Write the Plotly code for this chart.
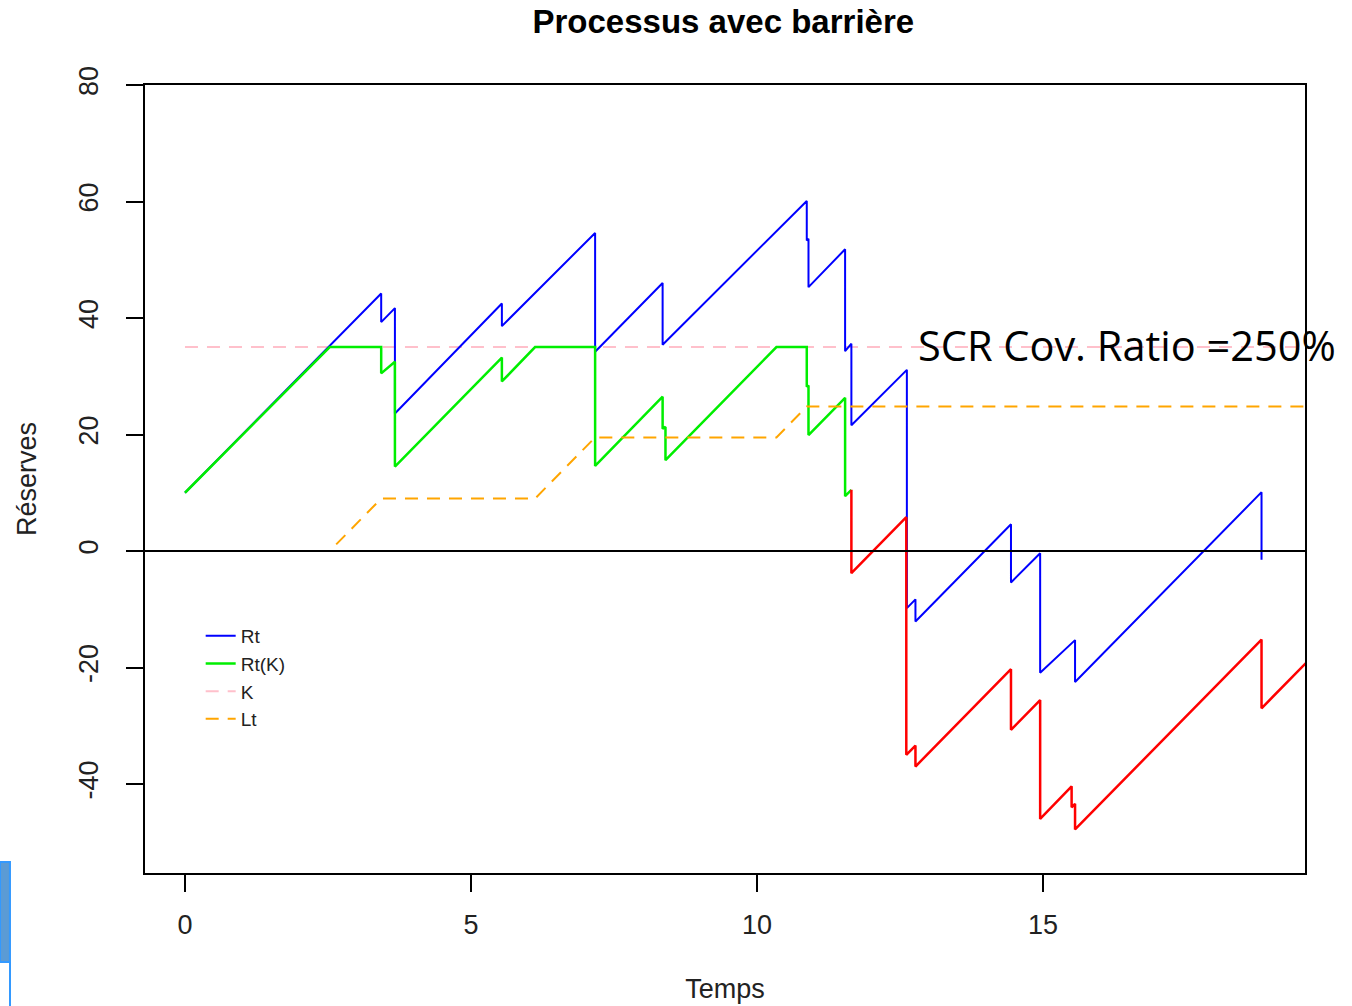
import plotly.graph_objects as go

# ---- data ----
rt_t = [0, 3.43, 3.43, 3.67, 3.67, 5.54, 5.54, 7.17, 7.17, 8.35, 8.35, 10.87, 10.87,
        10.9, 10.9, 11.54, 11.54, 11.65, 11.65, 12.62, 12.62, 12.77, 12.77, 14.44,
        14.44, 14.95, 14.95, 15.56, 15.56, 18.82, 18.82]
rt_v = [10, 44.2, 39.3, 41.7, 23.6, 42.5, 38.6, 54.6, 34.2, 46.0, 35.4, 60.1, 53.3,
        53.6, 45.3, 51.8, 34.3, 35.6, 21.6, 31.1, -9.8, -8.3, -12.1, 4.6,
        -5.4, -0.4, -20.9, -15.3, -22.5, 10.1, -1.5]

rtk_t = [0, 2.53, 3.43, 3.43, 3.67, 3.67, 5.54, 5.54, 6.12, 7.17, 7.17, 8.35, 8.35,
         8.4, 8.4, 10.34, 10.87, 10.87, 10.9, 10.9, 11.54, 11.54, 11.65]
rtk_v = [10, 35, 35, 30.5, 32.5, 14.5, 33.2, 29.1, 35, 35, 14.6, 26.5, 21.0,
         21.3, 15.6, 35, 35, 28.2, 28.4, 19.9, 26.3, 9.4, 10.5]

ruin_t = [11.65, 11.65, 12.61, 12.61, 12.77, 12.77, 14.44, 14.44, 14.95, 14.95,
          15.5, 15.5, 15.56, 15.56, 18.82, 18.82, 19.7]
ruin_v = [10.5, -3.8, 5.8, -35.0, -33.4, -37.0, -20.3, -30.7, -25.6, -46.0,
          -40.4, -44.0, -43.4, -47.8, -15.2, -27.0, -18.2]

k_t = [0, 19.7]
k_v = [35, 35]

lt_t = [0, 2.53, 3.43, 6.12, 7.17, 10.34, 10.87, 19.7]
lt_v = [0, 0, 9, 9, 19.5, 19.5, 24.8, 24.8]

x_ticks = [0, 5, 10, 15]
y_ticks = [-40, -20, 0, 20, 40, 60, 80]

FONT = "Liberation Sans, Arial, sans-serif"
DASH = "13px,9px"

fig = go.Figure()
fig.add_trace(go.Scatter(x=k_t, y=k_v, mode="lines", name="K", legendrank=3,
                         line=dict(color="#FFC0CB", width=2, dash=DASH)))
fig.add_trace(go.Scatter(x=rt_t, y=rt_v, mode="lines", name="Rt", legendrank=1,
                         line=dict(color="#0000FF", width=2)))
fig.add_trace(go.Scatter(x=rtk_t, y=rtk_v, mode="lines", name="Rt(K)", legendrank=2,
                         line=dict(color="#00EE00", width=2.5)))
fig.add_trace(go.Scatter(x=ruin_t, y=ruin_v, mode="lines", name="ruine", showlegend=False,
                         line=dict(color="#FF0000", width=2.5)))
fig.add_trace(go.Scatter(x=lt_t, y=lt_v, mode="lines", name="Lt", legendrank=4,
                         line=dict(color="#FFA500", width=2, dash=DASH)))

# zero line
fig.add_hline(y=0, line=dict(color="black", width=2), layer="above")

# screenshot artifact at left edge
fig.add_shape(type="rect", xref="paper", yref="paper", x0=-0.125, x1=-0.1164,
              y0=0.014, y1=-0.1129, fillcolor="#5B9BD5", line=dict(color="#3399FF", width=2))
fig.add_shape(type="line", xref="paper", yref="paper", x0=-0.1164, x1=-0.1164,
              y0=-0.1129, y1=-0.17, line=dict(color="#3399FF", width=2))

fig.add_annotation(x=16.47, y=35.3, xref="x", yref="y", text="SCR Cov. Ratio =250%",
                   showarrow=False, font=dict(family="Open Sans, Noto Sans, sans-serif",
                                              size=41.5, color="black"))

axis_common = dict(showline=True, linecolor="black", linewidth=2, mirror=True,
                   ticks="outside", ticklen=17, tickwidth=2, tickcolor="black",
                   showgrid=False, zeroline=False,
                   tickfont=dict(family=FONT, size=27, color="#222"))

fig.update_xaxes(range=[-0.699, 19.58], tickvals=x_ticks, ticktext=[str(v) for v in x_ticks],
                 title=dict(text="Temps", font=dict(family=FONT, size=27, color="#222"), standoff=40),
                 ticklabelstandoff=10, **axis_common)
fig.update_yaxes(range=[-55.28, 80], tickvals=y_ticks, ticktext=[str(v) for v in y_ticks],
                 tickangle=-90,
                 title=dict(text="Réserves", font=dict(family=FONT, size=27, color="#222"), standoff=30),
                 ticklabelstandoff=17, **axis_common)

fig.update_layout(
    width=1352, height=1006,
    margin=dict(l=145, r=47, t=85, b=133, autoexpand=False),
    plot_bgcolor="white", paper_bgcolor="white",
    title=dict(text="<b>Processus avec barrière</b>", x=0.535, xanchor="center",
               y=1 - 21 / 1006, yanchor="middle", yref="container",
               font=dict(family=FONT, size=33, color="black")),
    legend=dict(x=0.048, y=0.325, xanchor="left", yanchor="top", bgcolor="rgba(0,0,0,0)",
                font=dict(family=FONT, size=19, color="#222"), tracegroupgap=0),
    showlegend=True,
)

fig.write_html("out.html")
